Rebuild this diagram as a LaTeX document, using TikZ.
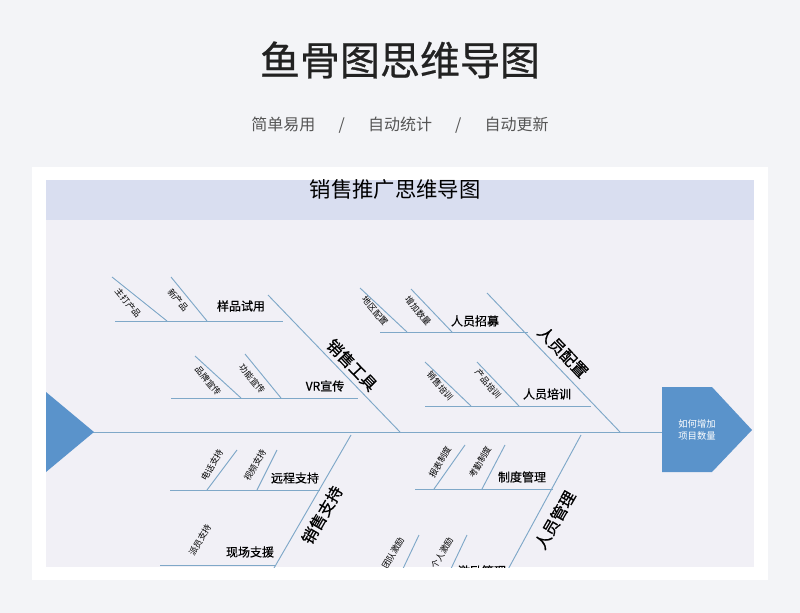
\documentclass[tikz,border=0pt]{standalone}
\usepackage{fontspec}
\setmainfont{Noto Sans CJK SC}
\newfontfamily\cjkb[FakeBold=0.6]{Noto Sans CJK SC}
\definecolor{pagebg}{HTML}{F3F4F7}
\definecolor{innerbg}{HTML}{F1F0F6}
\definecolor{bandbg}{HTML}{D9DEF0}
\definecolor{bone}{HTML}{7FA8C8}
\definecolor{headfill}{HTML}{5A93CB}
\definecolor{subgray}{HTML}{555555}
\definecolor{titlegray}{HTML}{222222}
\tikzset{
  boneline/.style={bone, line width=0.7pt},
  cause/.style={font=\fontsize{9}{9}\selectfont\cjkb, inner sep=0pt},
  subcause/.style={font=\fontsize{6.5}{6.5}\selectfont, inner sep=0pt},
  mainbone/.style={font=\fontsize{12}{12}\selectfont\cjkb, inner sep=0pt},
}
\begin{document}
\begin{tikzpicture}[x=0.75pt,y=-0.75pt]

\fill[pagebg] (0,0) rectangle (800,613);
\useasboundingbox (0,0) rectangle (800,613);

\node[text=titlegray] (title) at (400,60) {\fontsize{30}{30}\selectfont\cjkb 鱼骨图思维导图};
\node[text=subgray] (subtitle) at (400,125) {\fontsize{12}{12}\selectfont 简单易用\quad\ \ /\ \ \quad 自动统计\quad\ \ /\ \ \quad 自动更新};

\fill[white] (32,167) rectangle (768,580);

\begin{scope}
\clip (46,180) rectangle (754,567);
\fill[innerbg] (46,180) rectangle (754,567);
\fill[bandbg] (46,180) rectangle (754,220);
\node (inner) at (395,189) {\fontsize{16}{16}\selectfont 销售推广思维导图};

% spine and ends
\draw[boneline] (90,432) -- (662,432);
\fill[headfill] (46,392) -- (94,432) -- (46,472) -- cycle;
\fill[headfill] (662,387) -- (712,387) -- (752,430) -- (712,472) -- (662,472) -- cycle;
\node[white, align=center, font=\fontsize{7}{9}\selectfont] (head) at (697,430) {如何增加\\项目数量};

% main bones
\draw[boneline] (268,295) -- (400,432);
\node[mainbone, rotate=-46] (b1) at (352,365) {销售工具};
\draw[boneline] (487,293) -- (620,432);
\node[mainbone, rotate=-46] (b2) at (563,352) {人员配置};
\draw[boneline] (351,435) -- (270,575);
\node[mainbone, rotate=60] (b3) at (322,515) {销售支持};
\draw[boneline] (581,435) -- (505,575);
\node[mainbone, rotate=60] (b4) at (555,520) {人员管理};

% 销售工具
\draw[boneline] (115,321) -- (283,321);
\node[cause] (c1) at (241,306) {样品试用};
\draw[boneline] (112,277) -- (167,321);
\node[subcause, rotate=-50] at (128,303) {主打产品};
\draw[boneline] (171,277) -- (207,321);
\node[subcause, rotate=-50] at (178,300) {新产品};
\draw[boneline] (171,398) -- (358,398);
\node[cause] (c2) at (325,386) {VR宣传};
\draw[boneline] (195,356) -- (241,398);
\node[subcause, rotate=-50] at (208,381) {品牌宣传};
\draw[boneline] (245,354) -- (281,398);
\node[subcause, rotate=-50] at (252,379) {功能宣传};

% 人员配置
\draw[boneline] (380,332) -- (528,332);
\node[cause] (c3) at (475,321) {人员招募};
\draw[boneline] (360,288) -- (407,332);
\node[subcause, rotate=-50] at (375,311) {地区配置};
\draw[boneline] (411,289) -- (452,332);
\node[subcause, rotate=-50] at (418,311) {增加数量};
\draw[boneline] (425,406) -- (591,406);
\node[cause] (c4) at (547,394) {人员培训};
\draw[boneline] (425,362) -- (471,406);
\node[subcause, rotate=-50] at (440,386) {销售培训};
\draw[boneline] (477,362) -- (519,406);
\node[subcause, rotate=-50] at (488,384) {产品培训};

% 销售支持
\draw[boneline] (170,490) -- (320,490);
\node[cause] (c5) at (295,478) {远程支持};
\draw[boneline] (237,450) -- (207,490);
\node[subcause, rotate=60] at (212,465) {电话支持};
\draw[boneline] (277,450) -- (257,490);
\node[subcause, rotate=60] at (255,465) {视频支持};
\draw[boneline] (160,565) -- (275,565);
\node[cause] (c6) at (250,552) {现场支援};
\node[subcause, rotate=60] at (200,540) {派员支持};

% 人员管理
\draw[boneline] (415,489) -- (553,489);
\node[cause] (c7) at (522,477) {制度管理};
\draw[boneline] (465,445) -- (434,489);
\node[subcause, rotate=60] at (440,462) {报表制度};
\draw[boneline] (505,445) -- (482,489);
\node[subcause, rotate=60] at (480,462) {考勤制度};
\draw[boneline] (419,535) -- (400,575);
\node[subcause, rotate=60] at (393,553) {团队激励};
\draw[boneline] (467,535) -- (448,575);
\node[subcause, rotate=60] at (442,553) {个人激励};
\node[cause] (c8) at (482,571) {激励管理};
\end{scope}

\end{tikzpicture}
\end{document}
